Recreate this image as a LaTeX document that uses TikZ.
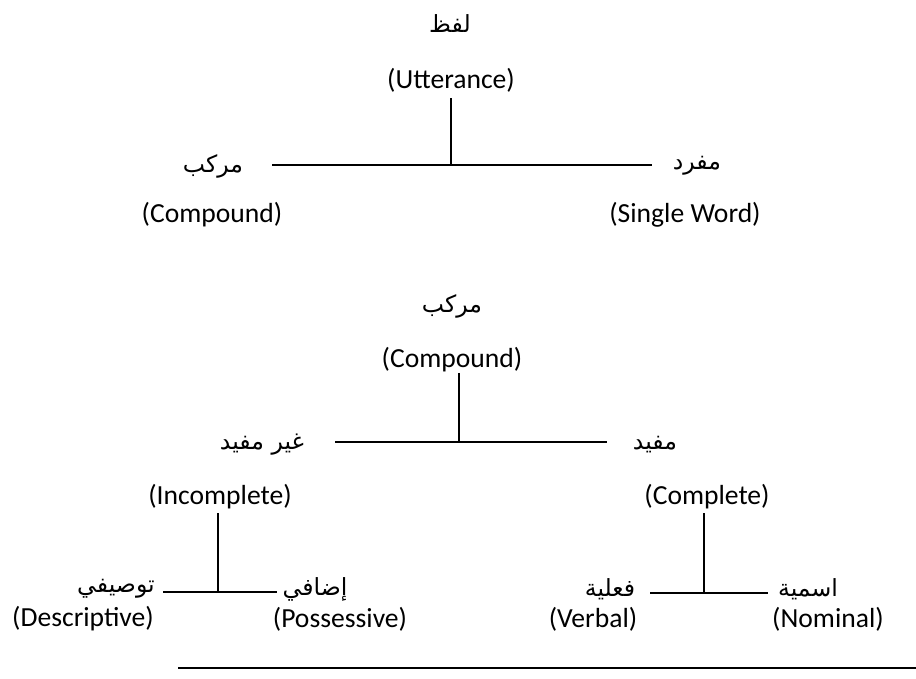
\documentclass[tikz,border=0pt]{standalone}
\usepackage{fontspec}
\setmainfont{Carlito}
\newfontfamily\arabicfont[Script=Arabic]{DejaVu Sans}
\TeXXeTstate=1
\newcommand{\artext}[1]{{\arabicfont\beginR #1\endR}}

\begin{document}
\begin{tikzpicture}[
    x=0.5pt, y=-0.5pt,
    eng/.style={inner sep=0pt, font=\fontsize{13.8}{16}\selectfont},
    arb/.style={inner sep=0pt, font=\fontsize{11.8}{14}\selectfont},
    branch/.style={line width=1pt}
]
\useasboundingbox (0,0) rectangle (916,679);

% Nodes: first tree
\node[arb] (lafz) at (450, 24) {\artext{لفظ}};
\node[eng] (utt) at (451, 80) {(Utterance)};
\node[arb] (murakkab) at (213, 166) {\artext{مركب}};
\node[arb] (mufrad) at (697, 166) {\artext{مفرد}};
\node[eng] (cmp) at (212, 215) {(Compound)};
\node[eng] (sgl) at (685, 215) {(Single Word)};

% Nodes: second tree
\node[arb] (murakkab2) at (452, 306) {\artext{مركب}};
\node[eng] (cmp2) at (452, 360) {(Compound)};
\node[arb] (ghayr) at (262, 445) {\artext{غير مفيد}};
\node[arb] (mufid) at (655, 445) {\artext{مفيد}};
\node[eng] (inc) at (220, 497) {(Incomplete)};
\node[eng] (com) at (707, 497) {(Complete)};
\node[arb] (tawsifi) at (116, 589) {\artext{توصيفي}};
\node[arb] (idafi) at (315, 589) {\artext{إضافي}};
\node[arb] (filiya) at (610, 589) {\artext{فعلية}};
\node[arb] (ismiya) at (808, 589) {\artext{اسمية}};
\node[eng] (desc) at (83, 619) {(Descriptive)};
\node[eng] (poss) at (340, 619) {(Possessive)};
\node[eng] (verb) at (593, 619) {(Verbal)};
\node[eng] (nomi) at (828, 619) {(Nominal)};

% Junctions
\coordinate (j1l) at (272, 165);
\coordinate (j1r) at (652, 165);
\coordinate (j2l) at (335, 442);
\coordinate (j2r) at (607, 442);
\coordinate (j3l) at (163, 592);
\coordinate (j3r) at (277, 592);
\coordinate (j4l) at (650, 593);
\coordinate (j4r) at (768, 593);
\coordinate (rulel) at (178, 668);
\coordinate (ruler) at (916, 668);

% Lines
\draw[branch] (j1l) -- (j1r);
\draw[branch] (utt.south) ++(0,6) -- (utt.south |- j1l);
\draw[branch] (j2l) -- (j2r);
\draw[branch] (459, 373) -- (459, 442);
\draw[branch] (j3l) -- (j3r);
\draw[branch] (218, 513) -- (218, 592);
\draw[branch] (j4l) -- (j4r);
\draw[branch] (704, 513) -- (704, 593);
\draw[branch] (rulel) -- (ruler);

\end{tikzpicture}
\end{document}
